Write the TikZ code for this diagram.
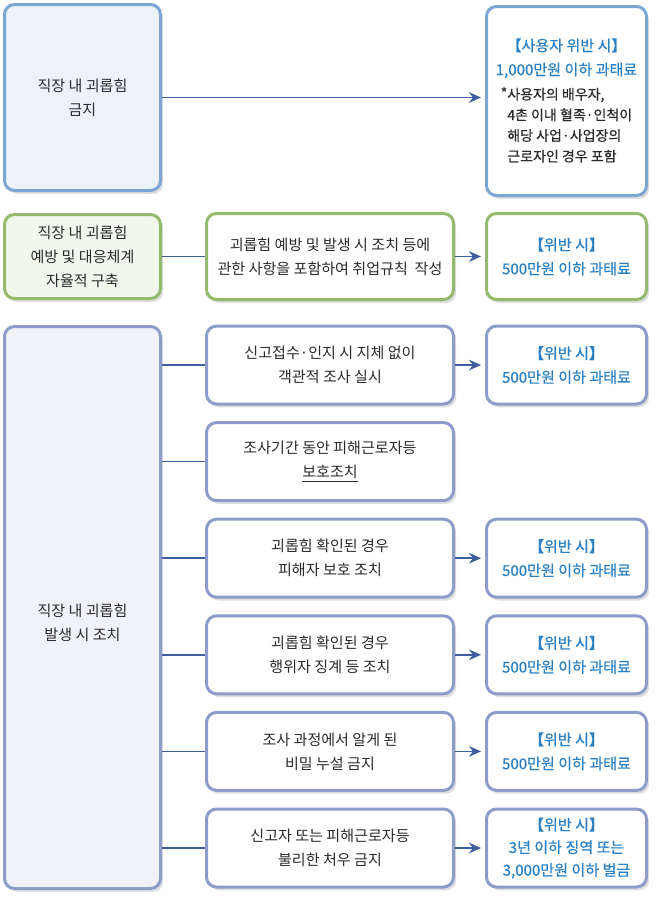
\documentclass[tikz,border=0pt]{standalone}
\usepackage{fontspec}
\setmainfont{Noto Sans CJK KR}
\newfontfamily\pnltyfont{Noto Sans CJK KR}[FakeBold=0.5]
\usetikzlibrary{arrows.meta,shadows}
\definecolor{skyline}{HTML}{7BA6D3}
\definecolor{skyfill}{HTML}{EDF2F9}
\definecolor{leafline}{HTML}{95BA6E}
\definecolor{leaffill}{HTML}{F2F7EC}
\definecolor{navyline}{HTML}{8E9CC9}
\definecolor{navyfill}{HTML}{F0F2F8}
\definecolor{wire}{HTML}{3E5E9E}
\definecolor{pnlty}{HTML}{2A80C3}
\definecolor{ink}{HTML}{2B2B2B}
\tikzset{every picture/.style={line width=0.75pt}}
\tikzset{
  box/.style={rounded corners=7.5pt, line width=2.25pt, align=center, text=ink,
    font=\fontsize{11.3}{18}\selectfont,
    drop shadow={shadow xshift=2pt, shadow yshift=-2.5pt, opacity=0.25}},
  leftbox/.style={box, minimum width=117pt},
  midbox/.style={box, draw=navyline, fill=white, minimum width=185.25pt, minimum height=58.5pt},
  finebox/.style={box, draw=navyline, fill=white, minimum width=120pt, minimum height=58.5pt,
    text=pnlty, font=\pnltyfont\fontsize{11.3}{18}\selectfont},
  wireline/.style={draw=wire, line width=1.1pt},
  wirearrow/.style={wireline, -{Stealth[length=9pt,width=8pt]}, shorten >=3pt},
}

\begin{document}
\begin{tikzpicture}[x=0.75pt,y=0.75pt,yscale=-1,xscale=1]
\useasboundingbox[fill=white] (0,0) rectangle (658,901);

%Shape: Rounded Rect -- ban
\node[leftbox, draw=skyline, fill=skyfill, minimum height=139.5pt] (ban) at (82.5,97.5) {직장 내 괴롭힘\\금지};
%Shape: Rounded Rect -- ban fine
\node[finebox, draw=skyline, minimum height=141.75pt] (banfine) at (566.5,101) {%
\begin{tabular}{@{}c@{}}
\pnltyfont\color{pnlty}【사용자 위반 시】\\
\pnltyfont\color{pnlty}1,000만원 이하 과태료\\[2pt]
\color{ink}\fontsize{10.5}{15.5}\selectfont
\begin{tabular}{@{}l@{}}
\raisebox{1pt}{*}사용자의 배우자,\\
\hphantom{*}4촌 이내 혈족·인척이\\
\hphantom{*}해당 사업·사업장의\\
\hphantom{*}근로자인 경우 포함
\end{tabular}
\end{tabular}};
%Straight Lines
\draw[wirearrow] (ban.east) -- (ban.east -| banfine.west);

%Shape: Rounded Rect -- self
\node[leftbox, draw=leafline, fill=leaffill, minimum height=63pt] (self) at (82.5,256.5) {직장 내 괴롭힘\\예방 및 대응체계\\자율적 구축};
\node[midbox, draw=leafline, minimum height=64.5pt] (rule) at (330,256.5) {괴롭힘 예방 및 발생 시 조치 등에\\관한 사항을 포함하여 취업규칙~~작성};
\node[finebox, draw=leafline, minimum height=64.5pt] (rulefine) at (566.5,256.5) {【위반 시】\\500만원 이하 과태료};
%Straight Lines
\draw[wireline] (self) -- (rule);
\draw[wirearrow] (rule) -- (rulefine);

%Shape: Rounded Rect -- act
\node[leftbox, draw=navyline, fill=navyfill, minimum height=421.5pt] (act) at (82.5,607.5) {\raisebox{-15pt}[0pt][0pt]{\begin{tabular}{@{}c@{}}직장 내 괴롭힘\\발생 시 조치\end{tabular}}};

% Measures
\node[midbox] (probe) at (330,365) {신고접수·인지 시 지체 없이\\객관적 조사 실시};
\node[midbox] (guard) at (330,461.6) {조사기간 동안 피해근로자등\\\underline{보호조치}};
\node[midbox] (aid) at (330,558.2) {괴롭힘 확인된 경우\\피해자 보호 조치};
\node[midbox] (punish) at (330,654.8) {괴롭힘 확인된 경우\\행위자 징계 등 조치};
\node[midbox] (secret) at (330,751.4) {조사 과정에서 알게 된\\비밀 누설 금지};
\node[midbox] (retal) at (330,848) {신고자 또는 피해근로자등\\불리한 처우 금지};

% Fines
\node[finebox] (probefine) at (566.5,365) {【위반 시】\\500만원 이하 과태료};
\node[finebox] (aidfine) at (566.5,558.2) {【위반 시】\\500만원 이하 과태료};
\node[finebox] (punishfine) at (566.5,654.8) {【위반 시】\\500만원 이하 과태료};
\node[finebox] (secretfine) at (566.5,751.4) {【위반 시】\\500만원 이하 과태료};
\node[finebox, font=\pnltyfont\fontsize{11.3}{17}\selectfont] (retalfine) at (566.5,848) {【위반 시】\\3년 이하 징역 또는\\3,000만원 이하 벌금};

%Straight Lines
\draw[wireline] (act.east |- probe) -- (probe.west);
\draw[wireline] (act.east |- guard) -- (guard.west);
\draw[wireline] (act.east |- aid) -- (aid.west);
\draw[wireline] (act.east |- punish) -- (punish.west);
\draw[wireline] (act.east |- secret) -- (secret.west);
\draw[wireline] (act.east |- retal) -- (retal.west);
%Arrows
\draw[wirearrow] (probe) -- (probefine);
\draw[wirearrow] (aid) -- (aidfine);
\draw[wirearrow] (punish) -- (punishfine);
\draw[wirearrow] (secret) -- (secretfine);
\draw[wirearrow] (retal) -- (retalfine);
\end{tikzpicture}
\end{document}
